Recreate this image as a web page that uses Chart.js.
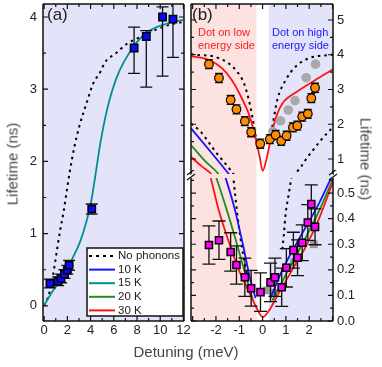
<!DOCTYPE html>
<html lang="en">
<head>
<meta charset="UTF-8" />
<title>Lifetime vs detuning</title>
<script src="https://cdn.jsdelivr.net/npm/chart.js"></script>
<style>
  body { margin: 0; background: #fff; font-family: Arial, "Liberation Sans", sans-serif; }
  #wrap { position: relative; width: 382px; height: 367px; overflow: hidden; }
  canvas { position: absolute; }
  .title { position: absolute; white-space: nowrap; font-size: 15px; font-weight: 400; color: #444; }
</style>
</head>
<body>
<div id="wrap">
  <canvas id="chartA" width="196" height="367" style="left:0;top:0"></canvas>
  <canvas id="chartBtop" width="197" height="176" style="left:185px;top:0"></canvas>
  <canvas id="chartBbot" width="197" height="197" style="left:185px;top:170px"></canvas>
  <div class="title" style="left:12px;top:164px;transform:translate(-50%,-50%) rotate(-90deg)">Lifetime (ns)</div>
  <div class="title" style="left:366px;top:159px;transform:translate(-50%,-50%) rotate(90deg)">Lifetime (ns)</div>
  <div class="title" style="left:186px;top:351px;transform:translate(-50%,-50%)">Detuning (meV)</div>
</div>

<script>
const FONT = 'Arial, "Liberation Sans", sans-serif';
Chart.defaults.font.family = FONT;
Chart.defaults.color = '#222';

// ---------- panel (a) ----------
const aDetuning = [0.5, 1.2, 1.45, 1.75, 2.0, 2.15, 4.1, 7.75, 8.8, 10.2, 11.1];
const aLifetime = [0.31, 0.34, 0.38, 0.44, 0.5, 0.56, 1.34, 3.57, 3.73, 4.0, 3.97];
const aErrLow   = [0.25, 0.28, 0.32, 0.38, 0.44, 0.49, 1.27, 3.22, 3.03, 3.18, 3.44];
const aErrHigh  = [0.37, 0.40, 0.44, 0.50, 0.56, 0.63, 1.41, 3.86, 3.81, 4.14, 4.5];

const aNoPhDet  = [0, 0.23, 0.52, 0.75, 0.95, 1.15, 1.38, 1.67, 2.0, 2.2, 2.6, 3.02, 3.74, 4.2, 4.84, 5.27, 6.13, 7.14, 8.0, 9.15, 10.2, 11.17, 12];
const aNoPhLife = [0, 0.08, 0.22, 0.41, 0.61, 0.82, 1.05, 1.3, 1.65, 1.85, 2.2, 2.48, 2.85, 3.07, 3.24, 3.38, 3.49, 3.63, 3.7, 3.79, 3.86, 3.91, 3.93];
const a15KDet   = [0, 0.8, 1.67, 2.39, 3.1, 3.68, 4.0, 4.35, 4.84, 5.41, 6.27, 7.7, 8.87, 10.6, 12];
const a15KLife  = [0.01, 0.22, 0.4, 0.64, 0.89, 1.19, 1.4, 1.74, 2.25, 2.71, 3.17, 3.59, 3.79, 3.91, 3.96];

const aXTicks = [0, 2, 4, 6, 8, 10, 12];
const aYTicks = [0, 1, 2, 3, 4];

const legendLabels = ['No phonons', '10 K', '15 K', '20 K', '30 K'];
const legendColors = ['#000000', '#1414ff', '#009090', '#1e8c1e', '#ff1414'];

// ---------- panel (b) ----------
const lowSideTo = -0.26, highSideFrom = 0.26;

const orangeDet  = [-2.30, -1.87, -1.37, -1.12, -0.76, -0.49, -0.10, 0.31, 0.56, 0.80, 1.03, 1.30, 1.49, 1.70, 1.94, 2.09, 2.25];
const orangeLife = [3.73, 3.33, 2.70, 2.43, 2.09, 1.77, 1.44, 1.57, 1.69, 1.52, 1.67, 1.91, 1.96, 2.22, 2.30, 2.75, 3.05];
const orangeErr  = [0.13, 0.13, 0.13, 0.13, 0.13, 0.13, 0.13, 0.13, 0.13, 0.13, 0.13, 0.13, 0.13, 0.13, 0.13, 0.13, 0.13];
const grayDotDet  = [0.44, 0.77, 1.10, 1.39, 1.87, 2.27];
const grayDotLife = [1.79, 2.10, 2.41, 2.68, 3.34, 3.73];

const magDet  = [-2.30, -1.87, -1.37, -1.12, -0.76, -0.49, -0.09, 0.34, 0.53, 0.82, 1.02, 1.32, 1.50, 1.70, 1.94, 2.09, 2.25];
const magLife = [0.297, 0.316, 0.270, 0.219, 0.171, 0.128, 0.113, 0.151, 0.171, 0.132, 0.208, 0.277, 0.247, 0.306, 0.385, 0.457, 0.368];
const magErr  = [0.075, 0.075, 0.075, 0.075, 0.075, 0.07, 0.075, 0.075, 0.075, 0.075, 0.075, 0.07, 0.07, 0.07, 0.07, 0.075, 0.07];
const graySqDet  = [0.2, 0.45, 1.0, 1.35, 2.2];
const graySqLife = [0.12, 0.11, 0.21, 0.23, 0.30];

// upper part of the broken axis
const redTopDet  = [-3.07, -2.3, -1.73, -1.3, -0.87, -0.59, -0.37, -0.23, -0.12, 0, 0.16, 0.34, 0.45, 0.63, 0.85, 1.1, 1.5, 1.9, 2.4, 3.02];
const redTopLife = [3.96, 3.85, 3.61, 3.25, 2.72, 2.3, 1.8, 1.38, 1.05, 0.66, 0.97, 1.55, 1.9, 2.3, 2.6, 2.77, 2.95, 3.12, 3.33, 3.58];
const noPhOutLDet  = [-3.07, -2.73, -2.23, -1.87, -1.45, -1.09, -0.8, -0.59, -0.44, -0.33, -0.23];
const noPhOutLLife = [4.02, 3.99, 3.97, 3.9, 3.75, 3.51, 3.18, 2.7, 2.22, 1.79, 1.4];
const noPhOutRDet  = [0.32, 0.42, 0.63, 0.99, 1.42, 1.99, 2.78, 3.02];
const noPhOutRLife = [1.55, 1.93, 2.7, 3.27, 3.66, 3.9, 3.99, 4.0];
const noPhInLTopDet  = [-3.07, -2.66, -2.33, -2.02, -1.66, -1.37, -1.2];
const noPhInLTopLife = [2.02, 1.79, 1.5, 1.21, 0.92, 0.68, 0.52];
const noPhInRTopDet  = [1.3, 1.63, 1.9, 2.25, 2.6, 3.02];
const noPhInRTopLife = [0.5, 0.76, 1.03, 1.33, 1.62, 1.92];
const blueTopDet  = [-3.07, -2.23, -1.45, -1.38];
const blueTopLife = [1.88, 1.21, 0.57, 0.51];
const greenTopDet  = [-3.07, -2.45, -1.92, -1.86];
const greenTopLife = [1.4, 0.93, 0.59, 0.53];
const redLTopDet  = [-3.07, -2.59, -2.23, -2.17];
const redLTopLife = [1.06, 0.78, 0.59, 0.53];

// lower part of the broken axis
const redBotDet  = [-2.25, -1.87, -1.45, -1.02, -0.59, -0.25, 0, 0.27, 0.7, 1.27, 1.85, 2.42, 3.02];
const redBotLife = [0.57, 0.43, 0.31, 0.2, 0.115, 0.05, 0.015, 0.04, 0.11, 0.2, 0.29, 0.4, 0.545];
const greenBotLDet  = [-2.02, -1.59, -1.16, -0.73, -0.42];
const greenBotLLife = [0.57, 0.45, 0.32, 0.18, 0.085];
const greenBotRDet  = [0.42, 0.99, 1.7, 2.42, 3.02];
const greenBotRLife = [0.08, 0.18, 0.3, 0.43, 0.555];
const blueBotLDet  = [-1.62, -1.23, -0.87, -0.52, -0.3];
const blueBotLLife = [0.57, 0.45, 0.31, 0.16, 0.09];
const blueBotRDet  = [0.34, 0.85, 1.56, 2.42, 3.02];
const blueBotRLife = [0.09, 0.2, 0.32, 0.46, 0.575];
const noPhInLBotDet  = [-1.3, -1.16, -1.02, -0.87, -0.73, -0.59];
const noPhInLBotLife = [0.6, 0.48, 0.37, 0.28, 0.21, 0.17];
const noPhInRBotDet  = [0.85, 0.91, 0.99, 1.13, 1.3];
const noPhInRBotLife = [0.28, 0.336, 0.42, 0.5, 0.6];

const bXTicks = [-2, -1, 0, 1, 2];
const bTopTicks = [1, 2, 3, 4, 5];
const bBotTicks = [0, 0.1, 0.2, 0.3, 0.4, 0.5];

// ---------- helpers ----------
const BLUE = '#1414ff', TEAL = '#009090', GREEN = '#1e8c1e', RED = '#ff1414';
const PINK_BG = '#fde2e2', BLUE_BG = '#e3e3fa';

const pts = (xs, ys) => xs.map((x, i) => ({ x: x, y: ys[i] }));

function lineDs(xs, ys, color, dashed, order) {
  return {
    data: pts(xs, ys), showLine: true, borderColor: color,
    borderWidth: dashed ? 2 : 1.8, borderDash: dashed ? [2.5, 4] : [],
    pointRadius: 0, cubicInterpolationMode: 'monotone', order: order
  };
}

function fixedSize(size) {
  return function (s) {
    if (s.isHorizontal()) s.height = size; else s.width = size;
    s.paddingLeft = s.paddingRight = s.paddingTop = s.paddingBottom = 0;
  };
}
const setTicks = values => s => { s.ticks = values.map(v => ({ value: v })); };

function axis(min, max, ticks, size, extra) {
  return Object.assign({
    type: 'linear', min: min, max: max,
    grid: { display: false, drawTicks: false },
    border: { display: false },
    afterBuildTicks: setTicks(ticks),
    afterFit: fixedSize(size),
    ticks: { autoSkip: false, maxRotation: 0, minRotation: 0, padding: 2,
             color: '#222', font: { size: 13 } }
  }, extra || {});
}

function makeBands(bands, extendTop) {
  return {
    id: 'bands',
    beforeDatasetsDraw(chart) {
      const { ctx, chartArea: a, scales: { x } } = chart;
      const top = a.top - (extendTop || 0);
      ctx.save();
      bands.forEach(b => {
        const x0 = Math.max(a.left, x.getPixelForValue(b.from));
        const x1 = Math.min(a.right, x.getPixelForValue(b.to));
        ctx.fillStyle = b.color;
        ctx.fillRect(x0, top, x1 - x0, a.bottom - top);
      });
      ctx.restore();
    }
  };
}

// vertical error bars, drawn just before their own markers
const errPlugin = {
  id: 'errbars',
  beforeDatasetDraw(chart, args) {
    const ds = chart.data.datasets[args.index];
    if (!ds.errLo) return;
    const { ctx, chartArea: a, scales } = chart;
    const ys = scales[args.meta.yAxisID];
    const w = ds.capWidth / 2;
    ctx.save();
    ctx.beginPath();
    ctx.rect(a.left, a.top, a.right - a.left, a.bottom - a.top);
    ctx.clip();
    ctx.strokeStyle = '#111';
    ctx.lineWidth = 1.3;
    ctx.beginPath();
    args.meta.data.forEach((p, i) => {
      const y0 = ys.getPixelForValue(ds.errLo[i]);
      const y1 = ys.getPixelForValue(ds.errHi[i]);
      ctx.moveTo(p.x, y0); ctx.lineTo(p.x, y1);
      ctx.moveTo(p.x - w, y0); ctx.lineTo(p.x + w, y0);
      ctx.moveTo(p.x - w, y1); ctx.lineTo(p.x + w, y1);
    });
    ctx.stroke();
    ctx.restore();
  }
};

// axis box with inward ticks
function makeFrame(cfg) {
  const values = (min, max, step) => {
    const out = [];
    for (let v = Math.ceil(min / step - 1e-9) * step; v <= max + 1e-9; v += step) out.push(+v.toFixed(6));
    return out;
  };
  const isMajor = (v, step) => Math.abs(v / step - Math.round(v / step)) < 1e-6;
  return {
    id: 'frame',
    afterDatasetsDraw(chart) {
      const { ctx, chartArea: a, scales: { x, y } } = chart;
      ctx.save();
      ctx.strokeStyle = '#111';
      ctx.lineWidth = 1.5;
      ctx.beginPath();
      if (cfg.left)   { ctx.moveTo(a.left, a.top);  ctx.lineTo(a.left, a.bottom); }
      if (cfg.right)  { ctx.moveTo(a.right, a.top); ctx.lineTo(a.right, a.bottom); }
      if (cfg.top)    { ctx.moveTo(a.left, a.top);  ctx.lineTo(a.right, a.top); }
      if (cfg.bottom) { ctx.moveTo(a.left, a.bottom); ctx.lineTo(a.right, a.bottom); }
      ctx.stroke();
      ctx.lineWidth = 1.2;
      ctx.beginPath();
      values(x.min, x.max, cfg.xMinor).forEach(v => {
        const len = isMajor(v, cfg.xMajor) ? 5 : 3;
        const px = x.getPixelForValue(v);
        if (cfg.bottom) { ctx.moveTo(px, a.bottom); ctx.lineTo(px, a.bottom - len); }
        if (cfg.top)    { ctx.moveTo(px, a.top);    ctx.lineTo(px, a.top + len); }
      });
      values(y.min, y.max, cfg.yMinor).forEach(v => {
        const len = isMajor(v, cfg.yMajor) ? 5 : 3;
        const py = y.getPixelForValue(v);
        if (cfg.left)  { ctx.moveTo(a.left, py);  ctx.lineTo(a.left + len, py); }
        if (cfg.right) { ctx.moveTo(a.right, py); ctx.lineTo(a.right - len, py); }
      });
      ctx.stroke();
      if (cfg.breakMarks) {
        ctx.lineWidth = 1.2;
        ctx.beginPath();
        [a.left, a.right].forEach(bx => {
          [a.top - 6, a.top - 1].forEach(by => {
            ctx.moveTo(bx - 4, by + 3); ctx.lineTo(bx + 4, by - 3);
          });
        });
        ctx.stroke();
      }
      ctx.restore();
    }
  };
}

function makeText(items) {
  return {
    id: 'notes',
    afterDraw(chart) {
      const ctx = chart.ctx;
      ctx.save();
      ctx.textBaseline = 'middle';
      items.forEach(t => {
        ctx.font = t.size + 'px ' + FONT;
        ctx.fillStyle = t.color;
        ctx.textAlign = t.align || 'left';
        ctx.fillText(t.text, t.x, t.y);
      });
      ctx.restore();
    }
  };
}

const legendPlugin = {
  id: 'legendBox',
  afterDraw(chart) {
    const { ctx, chartArea: a } = chart;
    const w = 96, h = 68;
    const x0 = a.right - 1 - w, y0 = a.bottom - 5 - h;
    ctx.save();
    ctx.fillStyle = '#fff';
    ctx.fillRect(x0, y0, w, h);
    ctx.strokeStyle = '#111';
    ctx.lineWidth = 1.5;
    ctx.strokeRect(x0, y0, w, h);
    ctx.font = '11.5px ' + FONT;
    ctx.textBaseline = 'middle';
    legendLabels.forEach((lab, i) => {
      const yy = y0 + 8 + i * 13.6;
      ctx.strokeStyle = legendColors[i];
      ctx.lineWidth = 2;
      ctx.setLineDash(i === 0 ? [3, 4] : []);
      ctx.beginPath();
      ctx.moveTo(x0 + 2, yy); ctx.lineTo(x0 + 28, yy);
      ctx.stroke();
      ctx.setLineDash([]);
      ctx.fillStyle = '#222';
      ctx.fillText(lab, x0 + 31, yy);
    });
    ctx.restore();
  }
};

const base = {
  responsive: false, animation: false, devicePixelRatio: 1, events: [],
  plugins: { legend: { display: false }, tooltip: { enabled: false } }
};

// ---------- chart (a) ----------
new Chart(document.getElementById('chartA'), {
  type: 'scatter',
  data: {
    datasets: [
      {
        data: pts(aDetuning, aLifetime), errLo: aErrLow, errHi: aErrHigh, capWidth: 12,
        pointStyle: 'rect', pointRadius: 5.2, backgroundColor: '#0a0aff',
        borderColor: '#000', borderWidth: 1.5, order: 1
      },
      lineDs(a15KDet, a15KLife, TEAL, false, 5),
      lineDs(aNoPhDet, aNoPhLife, '#000', true, 6)
    ]
  },
  options: Object.assign({}, base, {
    layout: { autoPadding: false, padding: { left: 0, top: 4, right: 12, bottom: 0 } },
    scales: {
      x: axis(-0.1, 12.05, aXTicks, 46),
      y: axis(-0.21, 4.18, aYTicks, 43, { ticks: { autoSkip: false, padding: 6, color: '#222', font: { size: 13 } } })
    }
  }),
  plugins: [
    makeBands([{ from: -1, to: 13, color: BLUE_BG }]),
    errPlugin,
    makeFrame({ left: true, right: true, top: true, bottom: true, xMajor: 2, xMinor: 1, yMajor: 1, yMinor: 0.5 }),
    legendPlugin,
    makeText([{ text: '(a)', x: 47, y: 15, size: 17, color: '#222' }])
  ]
});

// ---------- chart (b), upper part ----------
new Chart(document.getElementById('chartBtop'), {
  type: 'scatter',
  data: {
    datasets: [
      {
        data: pts(orangeDet, orangeLife),
        errLo: orangeLife.map((v, i) => v - orangeErr[i]),
        errHi: orangeLife.map((v, i) => v + orangeErr[i]), capWidth: 8,
        pointRadius: 4.3, backgroundColor: '#ff8c00', borderColor: '#000', borderWidth: 1.2, order: 1
      },
      { data: pts(grayDotDet, grayDotLife), pointRadius: 4.8, backgroundColor: '#a9a9a9', borderWidth: 0, order: 2 },
      lineDs(redTopDet, redTopLife, RED, false, 5),
      lineDs(noPhOutLDet, noPhOutLLife, '#000', true, 6),
      lineDs(noPhOutRDet, noPhOutRLife, '#000', true, 6),
      lineDs(noPhInLTopDet, noPhInLTopLife, '#000', true, 6),
      lineDs(noPhInRTopDet, noPhInRTopLife, '#000', true, 6),
      lineDs(blueTopDet, blueTopLife, BLUE, false, 7),
      lineDs(greenTopDet, greenTopLife, GREEN, false, 7),
      lineDs(redLTopDet, redLTopLife, RED, false, 7)
    ]
  },
  options: Object.assign({}, base, {
    layout: { autoPadding: false, padding: { left: 6, top: 4, right: 0, bottom: 1 } },
    scales: {
      x: { type: 'linear', min: -3.07, max: 3.02, display: false },
      y: axis(0.54, 5.46, bTopTicks, 49, { position: 'right',
        ticks: { autoSkip: false, padding: 4, color: '#222', font: { size: 13 } } })
    }
  }),
  plugins: [
    makeBands([{ from: -3.1, to: lowSideTo, color: PINK_BG }, { from: highSideFrom, to: 3.1, color: BLUE_BG }]),
    errPlugin,
    makeFrame({ left: true, right: true, top: true, bottom: false, xMajor: 1, xMinor: 0.5, yMajor: 1, yMinor: 0.5 }),
    makeText([
      { text: '(b)', x: 7, y: 15, size: 17, color: '#222' },
      { text: 'Dot on low', x: 13, y: 33, size: 11, color: '#ff1a1a' },
      { text: 'energy side', x: 13, y: 46, size: 11, color: '#ff1a1a' },
      { text: 'Dot on high', x: 87, y: 33, size: 11, color: '#1a1aff' },
      { text: 'energy side', x: 87, y: 46, size: 11, color: '#1a1aff' }
    ])
  ]
});

// ---------- chart (b), lower part ----------
new Chart(document.getElementById('chartBbot'), {
  type: 'scatter',
  data: {
    datasets: [
      {
        data: pts(magDet, magLife),
        errLo: magLife.map((v, i) => v - magErr[i]),
        errHi: magLife.map((v, i) => v + magErr[i]), capWidth: 13,
        pointStyle: 'rect', pointRadius: 5, backgroundColor: '#ff00ff',
        borderColor: '#000', borderWidth: 1.5, order: 1
      },
      { data: pts(graySqDet, graySqLife), pointStyle: 'rect', pointRadius: 5.5, backgroundColor: '#9a9a9a', borderWidth: 0, order: 8 },
      lineDs(redBotDet, redBotLife, RED, false, 5),
      lineDs(greenBotLDet, greenBotLLife, GREEN, false, 5),
      lineDs(greenBotRDet, greenBotRLife, GREEN, false, 5),
      lineDs(blueBotLDet, blueBotLLife, BLUE, false, 5),
      lineDs(blueBotRDet, blueBotRLife, BLUE, false, 5),
      lineDs(noPhInLBotDet, noPhInLBotLife, '#000', true, 6),
      lineDs(noPhInRBotDet, noPhInRBotLife, '#000', true, 6)
    ]
  },
  options: Object.assign({}, base, {
    layout: { autoPadding: false, padding: { left: 6, top: 8, right: 0, bottom: 0 } },
    scales: {
      x: axis(-3.07, 3.02, bXTicks, 46),
      y: axis(0, 0.559, bBotTicks, 49, { position: 'right',
        ticks: { autoSkip: false, padding: 4, color: '#222', font: { size: 13 },
                 callback: v => v.toFixed(1) } })
    }
  }),
  plugins: [
    makeBands([{ from: -3.1, to: lowSideTo, color: PINK_BG }, { from: highSideFrom, to: 3.1, color: BLUE_BG }], 4),
    errPlugin,
    makeFrame({ left: true, right: true, top: false, bottom: true, breakMarks: true,
                xMajor: 1, xMinor: 0.5, yMajor: 0.1, yMinor: 0.05 })
  ]
});
</script>
</body>
</html>
